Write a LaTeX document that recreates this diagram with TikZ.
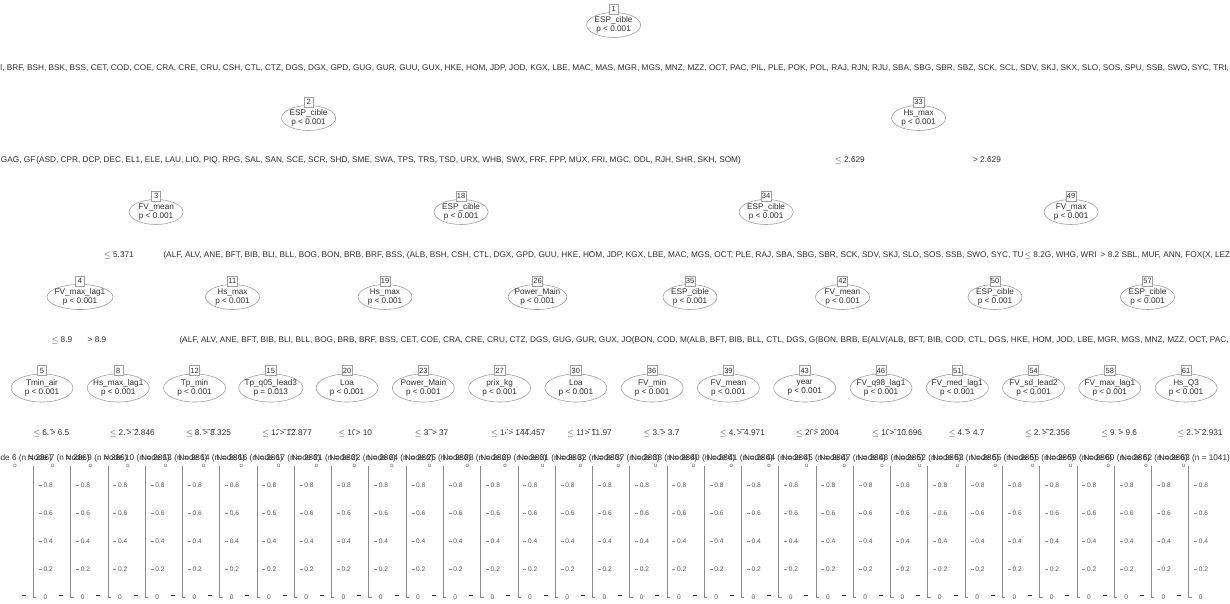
\documentclass[tikz,border=0pt]{standalone}
\usepackage{fontspec}
\setmainfont{Liberation Sans}
\usetikzlibrary{shapes.geometric,backgrounds}
\definecolor{linegray}{HTML}{A0A0A0}
\definecolor{inkgray}{HTML}{303030}
\definecolor{axisgray}{HTML}{5A5A5A}
\tikzset{
  split/.style={ellipse, draw=linegray, fill=white, line width=0.6pt, align=center,
    text=inkgray, font=\fontsize{8.2}{9}\selectfont, inner xsep=-2pt, inner ysep=-2.5pt,
    minimum width=54pt, minimum height=25pt},
  splitlow/.style={split, inner xsep=-3.5pt, minimum width=62pt, minimum height=28pt},
  idbox/.style={rectangle, draw=linegray, fill=white, line width=0.5pt, text=inkgray,
    font=\fontsize{7.5}{8}\selectfont, inner sep=1pt, minimum width=9pt, minimum height=10pt},
  conn/.style={draw=linegray, line width=0.6pt},
  elab/.style={text=inkgray, font=\fontsize{8.25}{9}\selectfont, inner sep=0.3pt},
  elabw/.style={elab, fill=white},
  leaflab/.style={text=inkgray, font=\fontsize{8.2}{9}\selectfont, inner sep=0pt, anchor=west},
  axisline/.style={draw=axisgray!70, line width=0.6pt},
  ticklab/.style={text=axisgray, font=\fontsize{6.6}{7}\selectfont, inner sep=0pt, anchor=west},
  topmark/.style={text=axisgray, font=\fontsize{6}{6}\selectfont, inner sep=0pt},
  barmark/.style={draw=inkgray, line width=1.2pt},
}
% inner split node: style, name, x, y, id, variable, p-value
\newcommand\splitat[7]{%
  \node[#1] (#2) at (#3,#4) {#6\\#7};
  \node[idbox] (#2id) at ([yshift=3pt]#2.north) {#5};}
\begin{document}
\begin{tikzpicture}[x=1pt,y=-1pt]
\useasboundingbox (0,0) rectangle (1230,603);
\clip (0,0) rectangle (1230,603);
\fill[white] (0,0) rectangle (1230,603);

% ---- inner nodes ----
\splitat{split}{n1}{613.6}{25}{1}{ESP\_cible}{p < 0.001}
\splitat{split}{n2}{308.6}{118}{2}{ESP\_cible}{p < 0.001}
\splitat{split}{n33}{918.6}{118}{33}{Hs\_max}{p < 0.001}
\splitat{split}{n3}{156.1}{212}{3}{FV\_mean}{p < 0.001}
\splitat{split}{n18}{461.1}{212}{18}{ESP\_cible}{p < 0.001}
\splitat{split}{n34}{766.1}{212}{34}{ESP\_cible}{p < 0.001}
\splitat{split}{n49}{1071.1}{212}{49}{FV\_max}{p < 0.001}
\foreach \id/\var [count=\i from 0] in {4/FV\_max\_lag1, 11/Hs\_max, 19/Hs\_max,
  26/Power\_Main, 35/ESP\_cible, 42/FV\_mean, 50/ESP\_cible, 57/ESP\_cible} {
  \pgfmathsetmacro\mx{80+152.5*\i}
  \splitat{split}{n\id}{\mx}{297}{\id}{\var}{p < 0.001}
}
\foreach \id/\var/\pv [count=\j from 0] in {
  5/Tmin\_air/{p < 0.001}, 8/Hs\_max\_lag1/{p < 0.001}, 12/Tp\_min/{p < 0.001},
  15/Tp\_q05\_lead3/{p = 0.013}, 20/Loa/{p < 0.001}, 23/Power\_Main/{p < 0.001},
  27/prix\_kg/{p < 0.001}, 30/Loa/{p < 0.001}, 36/FV\_min/{p < 0.001},
  39/FV\_mean/{p < 0.001}, 43/year/{p < 0.001}, 46/FV\_q98\_lag1/{p < 0.001},
  51/FV\_med\_lag1/{p < 0.001}, 54/FV\_sd\_lead2/{p < 0.001},
  58/FV\_max\_lag1/{p < 0.001}, 61/Hs\_Q3/{p < 0.001}} {
  \pgfmathsetmacro\nx{42+76.27*\j}
  \splitat{splitlow}{n\id}{\nx}{388}{\id}{\var}{\pv}
  \pgfmathtruncatemacro\la{\id+1}
  \pgfmathtruncatemacro\lb{\id+2}
  \coordinate (lf\la) at (\nx-19.07,453);
  \coordinate (lf\lb) at (\nx+19.07,453);
}

% ---- connectors ----
\begin{pgfonlayer}{background}
\foreach \p/\c in {1/2,1/33,2/3,2/18,33/34,33/49,3/4,3/11,18/19,18/26,34/35,34/42,
  49/50,49/57,4/5,4/8,11/12,11/15,19/20,19/23,26/27,26/30,35/36,35/39,42/43,42/46,
  50/51,50/54,57/58,57/61}
  \draw[conn] (n\p) -- (n\c);
\foreach \p in {5,8,12,15,20,23,27,30,36,39,43,46,51,54,58,61} {
  \pgfmathtruncatemacro\la{\p+1}
  \pgfmathtruncatemacro\lb{\p+2}
  \draw[conn] (n\p) -- (lf\la);
  \draw[conn] (n\p) -- (lf\lb);
}
\end{pgfonlayer}

% ---- edge labels, first split ----
\node[elab, anchor=west] (e1) at (0,68) {l, BRF, BSH, BSK, BSS, CET, COD, COE, CRA, CRE, CRU, CSH, CTL, CTZ, DGS, DGX, GPD, GUG, GUR, GUU, GUX, HKE, HOM, JDP, JOD, KGX, LBE, MAC, MAS, MGR, MGS, MNZ, MZZ, OCT, PAC, PIL, PLE, POK, POL, RAJ, RJN, RJU, SBA, SBG, SBR, SBZ, SCK, SCL, SDV, SKJ, SKX, SLO, SOS, SPU, SSB, SWO, SYC, TRI,};

% ---- second level ----
\node[elab, anchor=west] (e2a) at (0.5,160) {GAG, GF};
\node[elabw, anchor=west] (e2b) at (e2a.east) {(ASD, CPR, DCP, DEC, EL1, ELE, LAU, LIO, PIQ, RPG, SAL, SAN, SCE, SCR, SHD, SME, SWA, TPS, TRS, TSD, URX, WHB, SWX, FRF, FPP, MUX, FRI, MGC, ODL, RJH, SHR, SKH, SOM)};
\node[elabw] (e33a) at (850,160) {$\le$ 2.629};
\node[elabw] (e33b) at (987,160) {> 2.629};

% ---- third level ----
\node[elabw] (e3a) at (119,255) {$\le$ 5.371};
\node[elabw, anchor=west] (e3b) at (163,255) {(ALF, ALV, ANE, BFT, BIB, BLI, BLL, BOG, BON, BRB, BRF, BSS, (ALB, BSH, CSH, CTL, DGX, GPD, GUU, HKE, HOM, JDP, KGX, LBE, MAC, MGS, OCT, PLE, RAJ, SBA, SBG, SBR, SCK, SDV, SKJ, SLO, SOS, SSB, SWO, SYC, TU};
\node[elabw, anchor=west] (e49a) at (e3b.east) {$\le$ 8.2G, WHG, WRI};
\node[elabw, anchor=west] (e49b) at ([xshift=3pt]e49a.east) {> 8.2 SBL, MUF, ANN, FOX(X, LEZ};

% ---- fourth level ----
\node[elabw] (e4a) at (62,340) {$\le$ 8.9};
\node[elabw] (e4b) at (97,340) {> 8.9};
\node[elabw, anchor=east] (e35) at (1229,340) {(ALF, ALV, ANE, BFT, BIB, BLI, BLL, BOG, BRB, BRF, BSS, CET, COE, CRA, CRE, CRU, CTZ, DGS, GUG, GUR, GUX, JO(BON, COD, M(ALB, BFT, BIB, BLL, CTL, DGS, G(BON, BRB, E(ALV(ALB, BFT, BIB, COD, CTL, DGS, HKE, HOM, JOD, LBE, MGR, MGS, MNZ, MZZ, OCT, PAC,};

% ---- last split labels ----
\foreach \id/\v [count=\j from 0] in {5/6.5, 8/2.846, 12/8.325, 15/12.877, 20/10, 23/37,
  27/144.457, 30/11.97, 36/3.7, 39/4.971, 43/2004, 46/10.696, 51/4.7, 54/2.356,
  58/9.6, 61/2.931} {
  \pgfmathsetmacro\nx{42+76.27*\j}
  \node[elab, anchor=west] (s\id a) at (\nx-9,433) {$\le$ \v};
  \node[elabw, anchor=west, inner xsep=2pt] (s\id b) at (\nx+6.5,433) {> \v};
}

% ---- terminal node labels ----
\foreach \t [count=\k from 0] in {6,7,9,10,13,14,16,17,21,22,24,25,28,29,31,32,
  37,38,40,41,44,45,47,48,52,53,55,56,59,60,62} {
  \node[leaflab] (t\t) at (-10+37.7*\k,458) {Node \t{} (n = 286)};
}
\node[leaflab] (t63) at (1158.7,458) {Node 63 (n = 1041)};

% ---- terminal panels ----
\foreach \k in {0,...,31} {
  \pgfmathsetmacro\ax{33.3+37.27*\k}
  \node[topmark] at (15+37.7*\k,466) {o};
  \draw[axisline] (\ax,466) -- (\ax,597) -- (\ax+3,597);
  \foreach \v/\yy in {0.8/485,0.6/513,0.4/541,0.2/569} {
    \draw[axisline] (\ax+5.5,\yy) -- (\ax+8.5,\yy);
    \node[ticklab] at (\ax+10,\yy) {\v};
  }
  \node[ticklab] at (\ax+10,597) {0};
  \draw[barmark] (\ax-11.5,595.5) -- (\ax-7.5,595.5);
}
\end{tikzpicture}
\end{document}
